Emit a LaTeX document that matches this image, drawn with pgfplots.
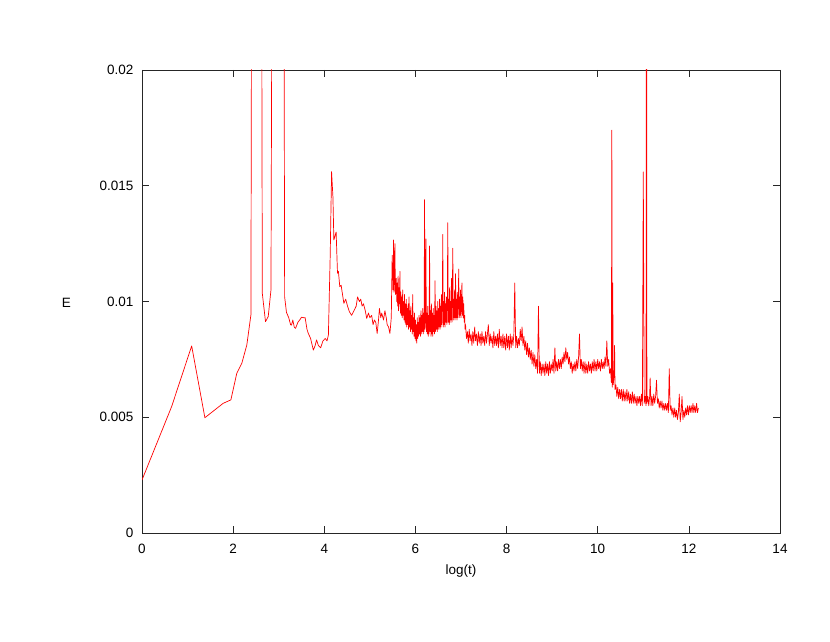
\documentclass[border=0pt]{standalone}
\usepackage{pgfplots}
\pgfplotsset{compat=1.18}
\usepackage{fontspec}
\setmainfont{Liberation Sans}
\begin{document}
\begin{tikzpicture}
\path[use as bounding box] (0,0) rectangle (830bp,642bp);
\begin{axis}[
  at={(142bp,109bp)}, anchor=south west,
  scale only axis, width=638bp, height=463bp,
  xmin=0, xmax=14, ymin=0, ymax=0.02,
  xtick={0,2,4,6,8,10,12,14},
  ytick={0,0.005,0.01,0.015,0.02},
  scaled y ticks=false,
  /pgf/number format/assume math mode=true,
  yticklabel style={/pgf/number format/fixed,/pgf/number format/precision=3, xshift=-5bp},
  xticklabel style={yshift=-8bp},
  tick label style={font=\fontsize{13.5bp}{16bp}\selectfont},
  label style={font=\fontsize{13.5bp}{16bp}\selectfont},
  axis line style={black!85, line width=0.7bp},
  every tick/.style={black!85, line width=0.7bp},
  tick align=inside, major tick length=7bp,
  xtick pos=both, ytick pos=both,
  xlabel={log(t)}, ylabel={E},
  xlabel style={at={(axis description cs:0.5,-0.0825)}, anchor=center},
  ylabel style={at={(axis description cs:-0.1187,0.497)}, anchor=center, rotate=-90},
  clip=true,
]
\addplot[red, line width=0.7bp, line join=round] coordinates {
(0,0.00229) (0.65,0.00546) (1.09,0.00808) (1.38,0.00498) (1.78,0.0056) (1.95,0.00575)
(2.08,0.0069) (2.19,0.00733) (2.30,0.00812) (2.39,0.00942) (2.41,0.03) (2.62,0.03)
(2.64,0.01035) (2.71,0.00913) (2.77,0.00935) (2.83,0.0105) (2.86,0.03) (3.11,0.03)
(3.13,0.0102) (3.17,0.00953) (3.22,0.0093) (3.26,0.0090) (3.28,0.00898) (3.31,0.0092)
(3.34,0.0089) (3.37,0.00884) (3.42,0.0091) (3.46,0.0092) (3.50,0.00932) (3.55,0.0093)
(3.58,0.0093) (3.62,0.0088) (3.65,0.00862) (3.70,0.0084) (3.76,0.0079) (3.80,0.0081)
(3.83,0.00834) (3.87,0.0081) (3.92,0.0080) (3.97,0.0083) (4.02,0.0084) (4.06,0.0083)
(4.09,0.00855) (4.13,0.0120) (4.16,0.01561) (4.19,0.0145) (4.21,0.01266) (4.23,0.0128)
(4.26,0.0130) (4.28,0.0118) (4.29,0.01122) (4.31,0.0113) (4.34,0.01064) (4.37,0.0107)
(4.40,0.0103) (4.43,0.00992) (4.47,0.0101) (4.51,0.0098) (4.55,0.00956) (4.60,0.0094)
(4.65,0.0096) (4.70,0.0098) (4.73,0.0102) (4.77,0.0100) (4.80,0.0101) (4.83,0.0098)
(4.86,0.0099) (4.90,0.0096) (4.93,0.00927) (4.97,0.0095) (5.00,0.0093) (5.04,0.0094)
(5.07,0.0090) (5.10,0.0092) (5.13,0.0091) (5.16,0.00862) (5.19,0.0092) (5.21,0.0097)
(5.24,0.0093) (5.26,0.0095) (5.30,0.0092) (5.33,0.0096) (5.36,0.0093) (5.38,0.0090)
(5.41,0.0089) (5.44,0.00862) (5.47,0.0093)
(5.49,0.0120) (5.51,0.0105) (5.52,0.01266) (5.53,0.0104) (5.55,0.0125) (5.56,0.0103)
(5.58,0.0110) (5.59,0.0100)
(5.60,0.0108) (5.61,0.0098) (5.62,0.0111) (5.63,0.0096) (5.64,0.0106) (5.65,0.0099)
(5.66,0.0113) (5.67,0.0095) (5.68,0.0104) (5.69,0.0094) (5.70,0.0102) (5.71,0.0093)
(5.72,0.0105) (5.73,0.0094) (5.74,0.0100) (5.75,0.0092) (5.76,0.0103) (5.77,0.0091)
(5.78,0.0099) (5.79,0.0090) (5.80,0.0101) (5.81,0.0089) (5.82,0.0097) (5.83,0.0090)
(5.84,0.0099) (5.85,0.0088) (5.86,0.0102) (5.87,0.0089) (5.88,0.0096) (5.89,0.0087)
(5.90,0.0098) (5.91,0.0088) (5.92,0.0094) (5.93,0.0086) (5.94,0.0103) (5.95,0.0087)
(5.96,0.0093) (5.97,0.0085) (5.98,0.0095) (5.99,0.0084) (6.00,0.0092) (6.01,0.0083)
(6.02,0.0090) (6.03,0.0082) (6.04,0.0093) (6.05,0.0084) (6.06,0.0091) (6.07,0.0085)
(6.08,0.0094) (6.09,0.0086) (6.10,0.0093) (6.11,0.0085) (6.12,0.0096) (6.13,0.0086)
(6.14,0.0094) (6.15,0.0087) (6.16,0.0097) (6.17,0.0086) (6.18,0.0095) (6.19,0.0087)
(6.20,0.0144) (6.21,0.0088) (6.22,0.0096) (6.23,0.0127) (6.24,0.0087) (6.25,0.0095)
(6.26,0.0086) (6.27,0.0098) (6.28,0.0085) (6.29,0.0094) (6.30,0.0086) (6.31,0.0124)
(6.32,0.0087) (6.33,0.0096) (6.34,0.0085) (6.35,0.0099) (6.36,0.0086) (6.37,0.0095)
(6.38,0.0085) (6.39,0.0097) (6.40,0.0087) (6.41,0.0094) (6.42,0.0086) (6.43,0.0109)
(6.44,0.0087) (6.45,0.0098) (6.46,0.0088) (6.47,0.0096) (6.48,0.0087) (6.49,0.0100)
(6.50,0.0088) (6.51,0.0097) (6.52,0.0089) (6.53,0.0101) (6.54,0.0088) (6.55,0.0098)
(6.56,0.0089) (6.57,0.0103) (6.58,0.0090) (6.59,0.0099) (6.60,0.0129) (6.61,0.0089)
(6.62,0.0100) (6.63,0.0090) (6.64,0.0104) (6.65,0.0089) (6.66,0.0099) (6.67,0.0091)
(6.68,0.0102) (6.69,0.0090) (6.70,0.0100) (6.71,0.0134) (6.72,0.0091) (6.73,0.0101)
(6.74,0.0090) (6.75,0.0106) (6.76,0.0091) (6.77,0.0100) (6.78,0.0092) (6.79,0.0110)
(6.80,0.0091) (6.81,0.0102) (6.82,0.0123) (6.83,0.0092) (6.84,0.0101) (6.85,0.0093)
(6.86,0.0105) (6.87,0.0092) (6.88,0.0112) (6.89,0.0093) (6.90,0.0101) (6.91,0.0092)
(6.92,0.0104) (6.93,0.0093) (6.94,0.0100) (6.95,0.0114) (6.96,0.0093) (6.97,0.0102)
(6.98,0.0094) (6.99,0.0105) (7.00,0.0093) (7.01,0.0101) (7.02,0.0108) (7.03,0.0094)
(7.04,0.0102) (7.05,0.0093) (7.06,0.0099) (7.07,0.0091) (7.08,0.0094) (7.09,0.0088)
(7.10,0.0090)
(7.12,0.0084) (7.14,0.0087) (7.16,0.0082) (7.18,0.0088) (7.20,0.0083) (7.22,0.0086)
(7.24,0.0081) (7.26,0.0087) (7.28,0.0082) (7.30,0.0089) (7.32,0.0083) (7.34,0.0086)
(7.36,0.0081) (7.38,0.0087) (7.40,0.0082) (7.42,0.0086) (7.44,0.0081) (7.46,0.0087)
(7.48,0.0082) (7.50,0.0085) (7.52,0.0081) (7.54,0.0087) (7.56,0.0082) (7.58,0.0086)
(7.60,0.0090) (7.62,0.0081) (7.64,0.0086) (7.66,0.0082) (7.68,0.0085) (7.70,0.0080)
(7.72,0.0087) (7.74,0.0081) (7.76,0.0085) (7.78,0.0081) (7.80,0.0086) (7.82,0.0080)
(7.84,0.0088) (7.86,0.0081) (7.88,0.0085) (7.90,0.0080) (7.92,0.0086) (7.94,0.0080)
(7.96,0.0085) (7.98,0.0079) (8.00,0.0086) (8.02,0.0080) (8.04,0.0085) (8.06,0.0079)
(8.08,0.0086) (8.10,0.0080) (8.12,0.0085) (8.14,0.0081) (8.16,0.0086) (8.18,0.0108)
(8.20,0.0080) (8.22,0.0085) (8.24,0.0080) (8.26,0.0084) (8.28,0.0081) (8.30,0.0088)
(8.32,0.0083) (8.34,0.0089) (8.36,0.0081) (8.38,0.0085) (8.40,0.0079) (8.42,0.0083)
(8.44,0.0077) (8.46,0.0082) (8.48,0.0076) (8.50,0.0080) (8.52,0.0075) (8.54,0.0079)
(8.56,0.0073) (8.58,0.0078) (8.60,0.0072) (8.62,0.0077) (8.64,0.0071) (8.66,0.0075)
(8.68,0.0069) (8.70,0.0098) (8.72,0.0069) (8.74,0.0074) (8.76,0.0068) (8.78,0.0073)
(8.80,0.0069)
(8.82,0.0073) (8.84,0.0068) (8.86,0.0074) (8.88,0.0069) (8.90,0.0073) (8.92,0.0068)
(8.94,0.0074) (8.96,0.0069) (8.98,0.0073) (9.00,0.0070) (9.02,0.0075) (9.04,0.0069)
(9.06,0.0080) (9.08,0.0070) (9.10,0.0074) (9.12,0.0070) (9.14,0.0075) (9.16,0.0071)
(9.18,0.0075) (9.20,0.0071) (9.22,0.0076) (9.24,0.0073) (9.26,0.0078) (9.28,0.0074)
(9.30,0.0080) (9.32,0.0075) (9.34,0.0078) (9.36,0.0073) (9.38,0.0076) (9.40,0.0071)
(9.42,0.0074) (9.44,0.0069) (9.46,0.0073) (9.48,0.0070) (9.50,0.0074) (9.52,0.0070)
(9.54,0.0075) (9.56,0.0071) (9.58,0.0076) (9.60,0.0086) (9.62,0.0071) (9.64,0.0075)
(9.66,0.0070) (9.68,0.0074) (9.70,0.0069) (9.72,0.0074) (9.74,0.0069) (9.76,0.0073)
(9.78,0.0069) (9.80,0.0074) (9.82,0.0070) (9.84,0.0073) (9.86,0.0069) (9.88,0.0074)
(9.90,0.0070) (9.92,0.0075) (9.94,0.0070) (9.96,0.0074) (9.98,0.0070) (10.00,0.0075)
(10.02,0.0071) (10.04,0.0074) (10.06,0.0070) (10.08,0.0075) (10.10,0.0071) (10.12,0.0074)
(10.14,0.0071) (10.16,0.0076) (10.18,0.0072) (10.20,0.0083) (10.22,0.0072) (10.24,0.0075)
(10.26,0.0069) (10.28,0.0071) (10.30,0.0065) (10.31,0.0174) (10.32,0.0063) (10.33,0.0108)
(10.34,0.0064) (10.36,0.0068) (10.37,0.0081) (10.38,0.0062) (10.40,0.0064)
(10.42,0.0059) (10.44,0.0063) (10.46,0.0058) (10.48,0.0062) (10.50,0.0058) (10.52,0.0062)
(10.54,0.0057) (10.56,0.0062) (10.58,0.0057) (10.60,0.0061) (10.62,0.0057) (10.64,0.0062)
(10.66,0.0057) (10.68,0.0061) (10.70,0.0056) (10.72,0.0060) (10.74,0.0056) (10.76,0.0061)
(10.78,0.0056) (10.80,0.0060) (10.82,0.0056) (10.84,0.0059) (10.86,0.0055) (10.88,0.0059)
(10.90,0.0056) (10.92,0.0059) (10.94,0.0055) (10.96,0.0060) (10.98,0.0055) (11.00,0.0156)
(11.02,0.0056) (11.04,0.0059) (11.06,0.0055) (11.07,0.0300) (11.08,0.0056) (11.10,0.0059)
(11.12,0.0055) (11.14,0.0059) (11.15,0.0067) (11.17,0.0055) (11.19,0.0059) (11.21,0.0055)
(11.23,0.0060) (11.25,0.0056) (11.27,0.0059) (11.29,0.0066) (11.31,0.0056) (11.33,0.0058)
(11.35,0.0054) (11.37,0.0057) (11.39,0.0054) (11.41,0.0057) (11.43,0.0053) (11.45,0.0056)
(11.47,0.0053) (11.49,0.0056) (11.51,0.0053) (11.53,0.0056) (11.55,0.0052) (11.57,0.0071)
(11.59,0.0053) (11.61,0.0055) (11.63,0.0051) (11.65,0.0054) (11.67,0.0050) (11.69,0.0054)
(11.71,0.0050) (11.73,0.0053) (11.75,0.0049) (11.77,0.0052) (11.79,0.0060) (11.81,0.0048)
(11.83,0.0052) (11.85,0.0059) (11.87,0.0049) (11.89,0.0053) (11.91,0.0050) (11.93,0.0054)
(11.95,0.0051) (11.97,0.0055) (11.99,0.0051) (12.01,0.0055) (12.03,0.0052) (12.05,0.0055)
(12.07,0.0052) (12.09,0.0056) (12.11,0.0052) (12.13,0.0055) (12.15,0.0052) (12.17,0.0056)
(12.19,0.0052) (12.21,0.0054)
};
\end{axis}
\end{tikzpicture}
\end{document}
